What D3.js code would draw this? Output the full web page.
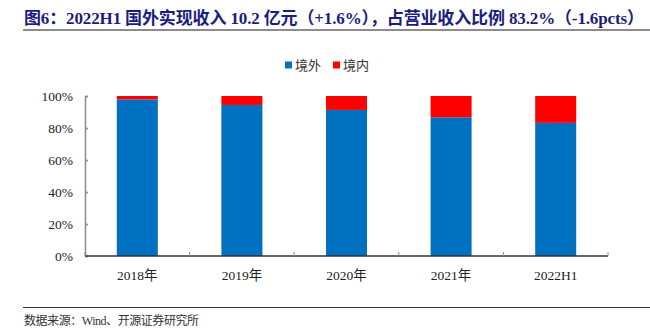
<!DOCTYPE html>
<html>
<head>
<meta charset="utf-8">
<script src="https://cdn.jsdelivr.net/npm/d3@7"></script>
<style>
  body { margin: 0; background: #fff; }
  svg { display: block; }
</style>
</head>
<body>
<svg id="chart" width="650" height="335"></svg>
<script>
const categories = ['2018年', '2019年', '2020年', '2021年', '2022H1'];
const overseas = [97.9, 94.4, 91.3, 86.7, 83.2];   // 境外 %
const domestic = overseas.map(v => +(100 - v).toFixed(1)); // 境内 % (remainder to 100)
const seriesNames = ['境外', '境内'];
const yTicks = [0, 20, 40, 60, 80, 100];

const colors = { '境外': '#0070c0', '境内': '#ff0000' };
const serif = '"Liberation Serif", "Times New Roman", "Noto Sans CJK SC", serif';

const svg = d3.select('#chart');
const margin = { left: 85, right: 42, top: 96, bottom: 79 };
const width = 650 - margin.left - margin.right;
const height = 335 - margin.top - margin.bottom;

// title
svg.append('text')
  .attr('x', 24).attr('y', 24)
  .attr('font-family', serif)
  .attr('font-size', 17).attr('font-weight', 'bold')
  .attr('textLength', 620).attr('lengthAdjust', 'spacing')
  .attr('fill', '#1c1c80')
  .text('图6：2022H1 国外实现收入 10.2 亿元（+1.6%），占营业收入比例 83.2%（-1.6pcts）');

svg.append('line')
  .attr('x1', 23).attr('x2', 650).attr('y1', 30).attr('y2', 30)
  .attr('stroke', '#8c8c8c').attr('stroke-width', 2);

// footer
svg.append('line')
  .attr('x1', 23).attr('x2', 650).attr('y1', 307.5).attr('y2', 307.5)
  .attr('stroke', '#333').attr('stroke-width', 1);

svg.append('text')
  .attr('x', 24).attr('y', 325)
  .attr('font-family', serif)
  .attr('font-size', 12).attr('fill', '#333')
  .attr('textLength', 175).attr('lengthAdjust', 'spacing')
  .text('数据来源：Wind、开源证券研究所');

const g = svg.append('g').attr('transform', `translate(${margin.left},${margin.top})`);

const xOuter = d3.scaleBand().domain(categories).range([0, width]);
const y = d3.scaleLinear().domain([0, 100]).range([height, 0]);

const rows = categories.map((c, i) => ({ cat: c, '境外': overseas[i], '境内': domestic[i] }));
const stacked = d3.stack().keys(seriesNames)(rows);

g.selectAll('g.series')
  .data(stacked)
  .join('g')
  .attr('class', 'series')
  .attr('fill', d => colors[d.key])
  .selectAll('rect')
  .data(d => d)
  .join('rect')
  .attr('x', d => xOuter(d.data.cat) + (xOuter.bandwidth() - 41) / 2)
  .attr('width', 41)
  .attr('y', d => y(Math.min(100, d[1])))
  .attr('height', d => y(d[0]) - y(Math.min(100, d[1])));

// y axis
const yAxis = d3.axisLeft(y).tickValues(yTicks).tickFormat(d => d + '%').tickSize(-3).tickPadding(12);
const gy = g.append('g').call(yAxis);
gy.select('.domain').attr('stroke', '#8c8c8c').attr('stroke-width', 1.5).attr('d', `M3,0.5H0.5V${height}`);
gy.selectAll('.tick line').attr('stroke', '#8c8c8c').attr('stroke-width', 1.5);
gy.selectAll('.tick text')
  .attr('font-family', serif).attr('font-size', 13.5).attr('fill', '#222');

// x axis with ticks at category boundaries
const gx = g.append('g').attr('transform', `translate(0,${height})`);
gx.append('line')
  .attr('x1', 0).attr('x2', width).attr('y1', 0).attr('y2', 0)
  .attr('stroke', '#333').attr('stroke-width', 1.5);
const bounds = categories.map(c => xOuter(c)).concat([width]);
gx.selectAll('line.tk').data(bounds).join('line').attr('class', 'tk')
  .attr('x1', d => d).attr('x2', d => d).attr('y1', 0).attr('y2', -4)
  .attr('stroke', '#8c8c8c').attr('stroke-width', 1);
gx.selectAll('text').data(categories).join('text')
  .attr('x', d => xOuter(d) + xOuter.bandwidth() / 2)
  .attr('y', 24)
  .attr('text-anchor', 'middle')
  .attr('font-family', serif).attr('font-size', 13.5).attr('fill', '#222')
  .text(d => d);

// legend
const legend = svg.append('g').attr('transform', 'translate(285,65)');
const legendItems = legend.selectAll('g').data(seriesNames).join('g')
  .attr('transform', (d, i) => `translate(${i * 48},0)`);
legendItems.append('rect')
  .attr('x', 0).attr('y', -3.5).attr('width', 7).attr('height', 7)
  .attr('fill', d => colors[d]);
legendItems.append('text')
  .attr('x', 10).attr('y', 5)
  .attr('font-family', serif).attr('font-size', 13).attr('fill', '#333')
  .text(d => d);
</script>
</body>
</html>
